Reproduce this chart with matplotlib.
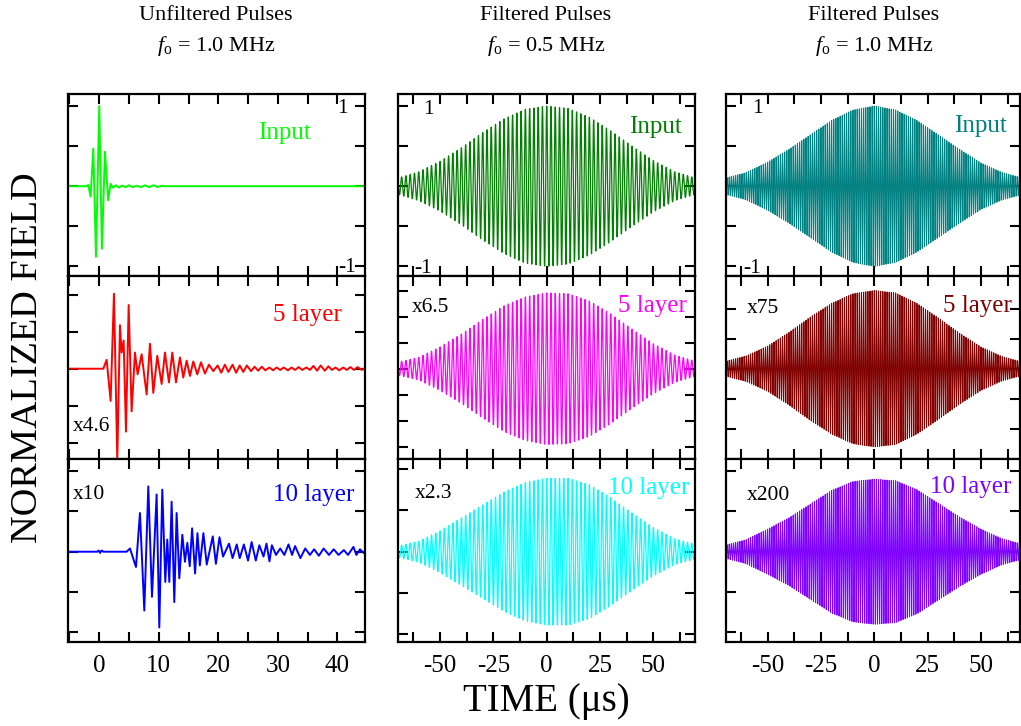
import numpy as np
import matplotlib
matplotlib.use('Agg')
import matplotlib.pyplot as plt
from matplotlib.ticker import MultipleLocator, FixedLocator

plt.rcParams['font.family'] = ['Liberation Serif', 'DejaVu Serif']
plt.rcParams['mathtext.fontset'] = 'custom'
plt.rcParams['mathtext.rm'] = 'Liberation Serif'
plt.rcParams['mathtext.it'] = 'Liberation Serif:italic'
plt.rcParams['axes.unicode_minus'] = False

# ---------------- data ----------------
# Unfiltered pulses (left column): time (us) and normalized field
t_in_unf = [-5.25, -2.2, -1.85, -1.45, -1.0, -0.55, 0.0, 0.45, 0.96, 1.5, 1.9, 2.3, 2.8,
            3.3, 3.8, 4.4, 5.0, 5.6, 6.3, 7.0, 7.7, 8.4, 9.1, 9.8, 10.5, 11.0, 44.65]
v_in_unf = [0, 0, 0.015, -0.13, 0.47, -0.88, 1.0, -0.78, 0.43, -0.175, 0.03, -0.02, 0.012,
            -0.018, 0.008, -0.012, 0.012, -0.012, 0.006, -0.012, 0.012, -0.012, 0.012, -0.01, 0.006, 0, 0]

t_5_unf = [-5.25, 0.68, 1.24, 1.91, 2.47, 3.03, 3.48, 3.76, 4.1, 4.49, 4.94, 5.44, 6.0,
           6.45, 7.12, 7.96, 8.52, 9.08, 9.75, 10.48, 11.04, 11.71, 12.27, 12.89, 13.56,
           14.12, 14.68, 15.24, 15.8, 16.47, 17.09, 17.76, 18.43, 19.16, 19.89,
           20.5, 21.1, 21.7, 22.4, 23.0, 23.6, 24.2, 24.8, 25.5, 26.1, 26.7, 27.3, 27.9,
           28.6, 29.2, 29.8, 30.4, 31.0, 31.7, 32.3, 32.9, 33.5, 34.1, 34.8, 35.4, 36.0,
           36.6, 37.2, 37.9, 38.5, 39.1, 39.7, 40.3, 41.0, 41.6, 42.2, 42.8, 43.4, 44.1, 44.65]
v_5_unf = [0, 0, 0.11, -0.40, 0.93, -1.13, 0.54, 0.20, 0.35, -0.78, 0.79, -0.53, 0.20,
           -0.07, 0.18, -0.32, 0.31, -0.30, 0.16, -0.19, 0.20, -0.17, 0.20, -0.17, 0.14,
           -0.11, 0.10, -0.09, 0.09, -0.07, 0.08, -0.06, 0.05, -0.03, 0.04,
           -0.05, 0.05, -0.04, 0.05, -0.05, 0.04, -0.04, 0.04, -0.03, 0.025, -0.025, 0.025, -0.02,
           0.015, -0.02, 0.015, -0.015, 0.015, -0.02, 0.015, -0.015, 0.02, -0.015, 0.015, -0.015, 0.035,
           -0.025, 0.04, -0.025, 0.03, -0.015, 0.015, -0.02, 0.015, -0.015, 0.02, -0.015, 0.02, -0.015, 0.01]

t_10_unf = [-5.25, -0.3, -0.1, 0.15, 0.4, 0.7, 4.6, 5.16, 6.17, 6.84, 7.57, 8.24, 8.86,
            9.64, 10.09, 10.59, 11.1, 11.43, 11.77, 12.16, 12.61, 13.0, 13.45, 13.96,
            14.4, 14.8, 15.2, 15.6, 16.1, 16.5, 16.9, 17.5, 18.06, 19.07, 19.6, 20.2,
            20.8, 21.8, 22.4, 23.1, 23.6, 24.3, 25.0, 25.6, 26.3, 26.9, 27.6, 28.1, 28.6,
            29.0, 29.7, 30.4, 31.1, 31.8, 32.4, 32.9, 33.8, 34.6, 35.4, 36.1, 36.9, 37.7,
            38.6, 39.4, 40.2, 41.1, 41.8, 42.7, 43.2, 43.8, 44.5, 44.65]
v_10_unf = [0, 0, 0.015, -0.015, 0.015, 0, 0, 0.04, -0.19, 0.48, -0.73, 0.81, -0.56,
            0.71, -0.94, 0.77, -0.375, 0.15, -0.375, 0.62, -0.625, 0.48, -0.33, 0.21,
            -0.125, 0.11, -0.18, 0.29, -0.27, 0.23, -0.17, 0.23, -0.16, 0.19, -0.15, 0.18,
            -0.06, 0.10, -0.08, 0.09, -0.08, 0.09, -0.11, 0.12, -0.11, 0.08, -0.06, 0.10, -0.12,
            0.08, -0.04, 0.04, -0.04, 0.09, -0.04, 0.07, -0.08, 0.04, -0.04, 0.03, -0.05, 0.04,
            -0.04, 0.03, -0.04, 0.02, -0.04, 0.06, -0.04, 0.03, -0.02, 0]

# Filtered pulses: envelope samples (normalized) read at these times (us)
env_t = [-70, -60, -50, -40, -30, -20, -10, 0, 10, 20, 30, 40, 50, 60, 70]
env_in_05 = [0.10, 0.18, 0.31, 0.48, 0.67, 0.84, 0.96, 1.00, 0.97, 0.86, 0.69, 0.50, 0.32, 0.18, 0.10]
env_5_05 = [0.08, 0.14, 0.27, 0.43, 0.61, 0.78, 0.89, 0.94, 0.93, 0.84, 0.68, 0.49, 0.31, 0.17, 0.09]
env_10_05 = [0.07, 0.13, 0.26, 0.42, 0.58, 0.74, 0.86, 0.91, 0.91, 0.83, 0.67, 0.48, 0.30, 0.16, 0.09]
env_in_10 = [0.10, 0.17, 0.30, 0.46, 0.64, 0.82, 0.95, 1.00, 0.95, 0.82, 0.64, 0.46, 0.29, 0.17, 0.10]
env_5_10 = [0.09, 0.16, 0.28, 0.45, 0.64, 0.81, 0.93, 0.97, 0.94, 0.81, 0.63, 0.44, 0.27, 0.15, 0.08]
env_10_10 = [0.08, 0.15, 0.28, 0.42, 0.59, 0.76, 0.87, 0.90, 0.88, 0.77, 0.60, 0.43, 0.28, 0.16, 0.09]
carrier_mhz = [0.5, 1.0]          # middle, right columns

labels = [["Input", "5 layer", "10 layer"]] * 3
scales = [[None, "x4.6", "x10"], [None, "x6.5", "x2.3"], [None, "x75", "x200"]]
colors = [["#00ff00", "#ff0000", "#0000ff"],
          ["#008000", "#ff00ff", "#00ffff"],
          ["#008080", "#800000", "#8000ff"]]
col_titles = ["Unfiltered Pulses", "Filtered Pulses", "Filtered Pulses"]
col_freq = ["1.0", "0.5", "1.0"]
ytick_step = [[0.5, 0.46, 0.5], [0.5, 0.3225, 0.5125], [0.5, 0.371, 0.5]]

# ---------------- layout ----------------
W, H = 1021, 726
fig = plt.figure(figsize=(W / 100, H / 100), dpi=100)
col_px = [(68, 365), (398, 695), (726, 1020)]
row_px = [(94, 276), (276, 459), (459, 642)]
xlims = [(-5.25, 44.65), (-69.7, 69.5), (-69.5, 68.3)]
YLIM = (-1.12, 1.15)


def ftxt(xp, yp, s, **kw):
    fig.text(xp / W, 1 - yp / H, s, **kw)


t_fine = np.arange(-70, 70.0001, 0.02)
unf_t = [t_in_unf, t_5_unf, t_10_unf]
unf_v = [v_in_unf, v_5_unf, v_10_unf]
envs = [[env_in_05, env_5_05, env_10_05], [env_in_10, env_5_10, env_10_10]]

for c in range(3):
    for r in range(3):
        x0, x1 = col_px[c]
        y0, y1 = row_px[r]
        ax = fig.add_axes([x0 / W, 1 - y1 / H, (x1 - x0) / W, (y1 - y0) / H])
        if c == 0:
            ax.plot(unf_t[r], unf_v[r], color=colors[c][r], lw=1.4,
                    solid_joinstyle='round')
        else:
            f = carrier_mhz[c - 1]
            env = np.interp(t_fine, env_t, envs[c - 1][r])
            ax.plot(t_fine, env * np.cos(2 * np.pi * f * t_fine),
                    color=colors[c][r], lw=0.9 if c == 1 else 0.75)
        ax.set_xlim(*xlims[c])
        ax.set_ylim(*YLIM)
        if c == 0:
            ax.xaxis.set_major_locator(MultipleLocator(10))
            ax.xaxis.set_minor_locator(MultipleLocator(5))
        else:
            ax.xaxis.set_major_locator(MultipleLocator(25))
            ax.xaxis.set_minor_locator(MultipleLocator(12.5))
        st = ytick_step[c][r]
        yt = [k * st for k in range(-3, 4) if abs(k * st) < 1.1]
        ax.yaxis.set_major_locator(FixedLocator(yt))
        ax.tick_params(which='both', direction='in', length=7, width=1.5,
                       top=True, right=True, labelleft=False,
                       labelbottom=(r == 2), labelsize=18, pad=9)
        for sp in ax.spines.values():
            sp.set_linewidth(1.6)

# ---------------- texts ----------------
lab_pos = [[(284, 139), (307, 321), (314, 501)],
           [(655, 133), (652, 312), (649, 494)],
           [(980, 132), (977, 312), (971, 493)]]
scl_pos = [[None, (73, 431), (73, 499)],
           [None, (412, 312), (415, 498)],
           [None, (747, 313), (747, 500)]]
for c in range(3):
    for r in range(3):
        xp, yp = lab_pos[c][r]
        ftxt(xp, yp, labels[c][r], color=colors[c][r], fontsize=18, ha='center', va='baseline')
        if scales[c][r]:
            xp, yp = scl_pos[c][r]
            ftxt(xp, yp, scales[c][r], color='black', fontsize=15.5, ha='left', va='baseline')

one_pos = [((342, 113), (347, 272)), ((428, 114), (423, 273)), ((757, 113), (752, 273))]
for c in range(3):
    (xa, ya), (xb, yb) = one_pos[c]
    ftxt(xa, ya, "1", fontsize=15.5, ha='center', va='baseline')
    ftxt(xb, yb, "-1", fontsize=15.5, ha='center', va='baseline')

title_x = [216, 546, 874]
for c in range(3):
    ftxt(title_x[c], 16, col_titles[c], fontsize=16, ha='center', va='center')
    ftxt(title_x[c], 46, r'$f_{\mathrm{o}}$' + " = " + col_freq[c] + " MHz",
         fontsize=16, ha='center', va='center')

ftxt(546, 701, "TIME (\u03bcs)", fontsize=28, ha='center', va='center')
ftxt(28, 358, "NORMALIZED FIELD", fontsize=27.5, ha='center', va='center', rotation=90)

fig.savefig("out.png", dpi=100)
